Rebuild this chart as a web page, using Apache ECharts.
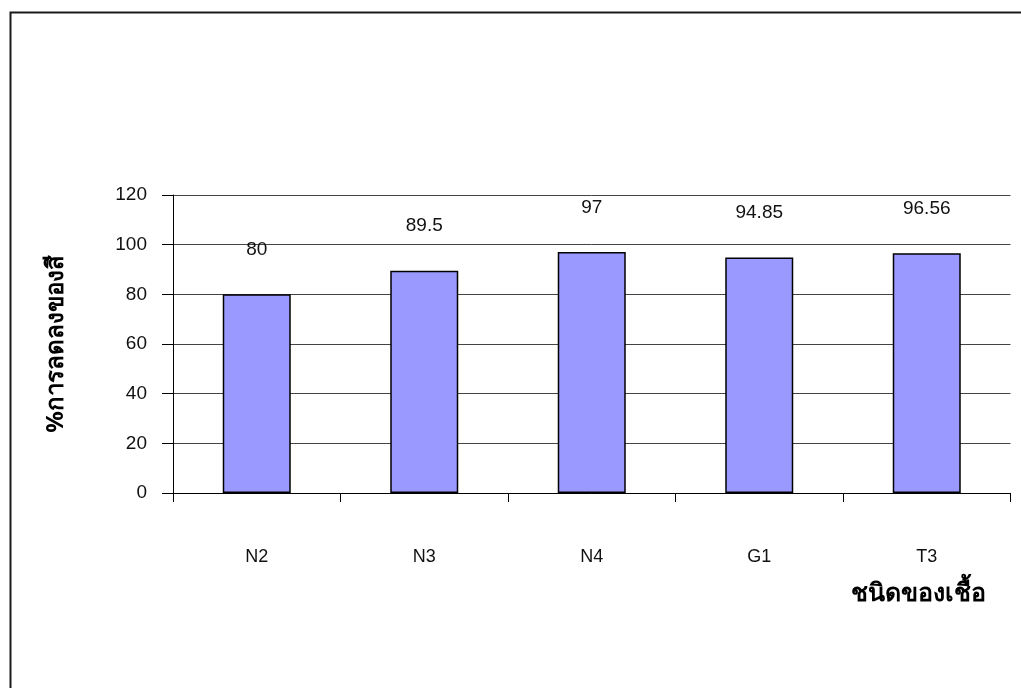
<!DOCTYPE html>
<html>
<head>
<meta charset="utf-8">
<script src="https://cdn.jsdelivr.net/npm/echarts@6/dist/echarts.min.js"></script>
<style>
html,body{margin:0;padding:0;background:#fff;}
#chart{width:1021px;height:688px;}
</style>
</head>
<body>
<div id="chart"></div>
<script>
const categories = ['N2', 'N3', 'N4', 'G1', 'T3'];
const values = [80, 89.5, 97, 94.85, 96.56];
const valueLabels = ['80', '89.5', '97', '94.85', '96.56'];
const yTicks = [0, 20, 40, 60, 80, 100, 120];
const yAxisTitle = '%การลดลงของสี';
const xAxisTitle = 'ชนิดของเชื้อ';

const chart = echarts.init(document.getElementById('chart'), null, {renderer: 'canvas'});
const txtFont = '"Liberation Sans", Arial, sans-serif';
chart.setOption({
  animation: false,
  backgroundColor: '#ffffff',
  grid: {left: 173, right: 10.5, top: 195, bottom: 195, containLabel: false},
  graphic: [
    {type: 'rect', shape: {x: 10.5, y: 12.5, width: 1100, height: 800}, style: {fill: 'none', stroke: '#1a1a1a', lineWidth: 2}, z: 100},
    {type: 'text', style: {text: yAxisTitle, font: 'bold 24px "Noto Sans", "DejaVu Sans", sans-serif', fill: '#000', textAlign: 'center', textVerticalAlign: 'middle'}, x: 56, y: 344, rotation: Math.PI / 2},
    {type: 'text', style: {text: xAxisTitle, font: 'bold 25px "Noto Sans", "DejaVu Sans", sans-serif', fill: '#000', textAlign: 'center', textVerticalAlign: 'middle'}, x: 918, y: 594}
  ],
  xAxis: {
    type: 'category',
    data: categories,
    axisLine: {lineStyle: {color: '#000', width: 1}},
    axisTick: {show: true, length: 9, alignWithLabel: false, lineStyle: {color: '#000'}},
    axisLabel: {color: '#111', fontSize: 18, fontFamily: txtFont, margin: 55},
    splitLine: {show: false}
  },
  yAxis: {
    type: 'value',
    min: 0, max: 120, interval: 20,
    axisLine: {show: true, lineStyle: {color: '#000', width: 1}},
    axisTick: {show: true, inside: false, length: 11, lineStyle: {color: '#000'}},
    axisLabel: {color: '#111', fontSize: 19, fontFamily: txtFont, margin: 26,
      formatter: function (v) { return yTicks.indexOf(v) >= 0 ? String(v) : ''; }},
    splitLine: {show: true, lineStyle: {color: '#444', width: 1}}
  },
  series: [{
    type: 'bar',
    data: values,
    barWidth: '40.6%',
    itemStyle: {color: '#9999FF', borderColor: '#000', borderWidth: 1.5},
    label: {
      show: true, position: 'top', distance: 35,
      color: '#111', fontSize: 19, fontFamily: txtFont,
      formatter: function (p) { return valueLabels[p.dataIndex]; }
    }
  }]
});
</script>
</body>
</html>
